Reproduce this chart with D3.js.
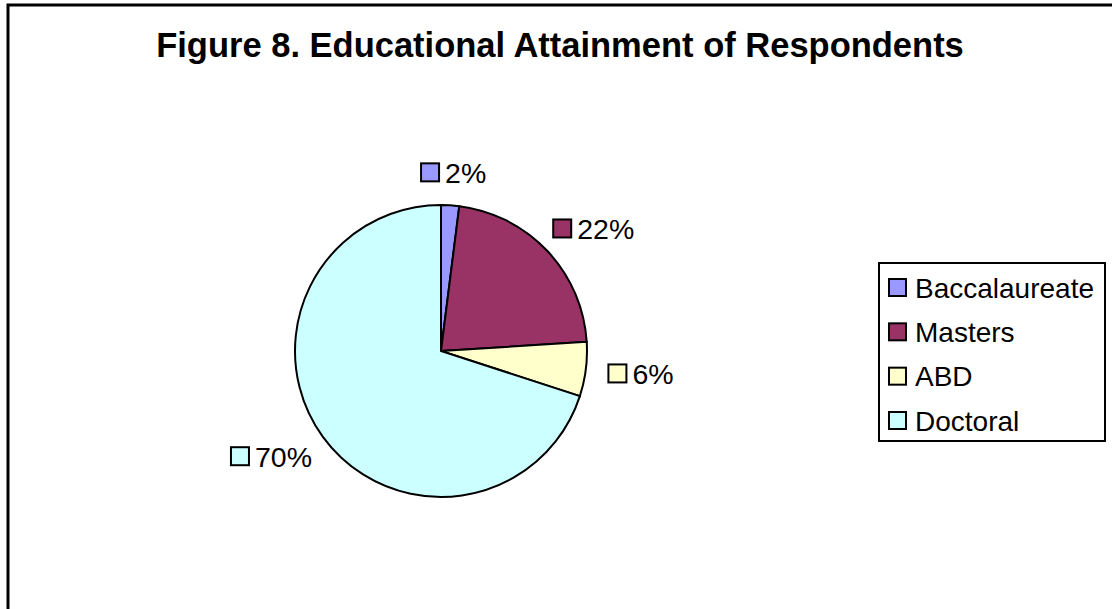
<!DOCTYPE html>
<html>
<head>
<meta charset="utf-8">
<style>
  body { margin:0; background:#fff; }
  text { font-family: "Liberation Sans", Arial, sans-serif; fill:#000; }
  .title { font-weight:bold; font-size:34.5px; }
  .frame { fill:#fff; stroke:#000; stroke-width:3px; }
  .slice { stroke:#000; stroke-width:2px; }
  .lbl text { font-size:28.5px; }
  .key { stroke:#000; stroke-width:2px; }
  .legend rect.box { fill:#fff; stroke:#000; stroke-width:2px; }
  .legend text { font-size:28px; }
</style>
</head>
<body>
<svg width="1112" height="609"></svg>
<script src="https://cdn.jsdelivr.net/npm/d3@7"></script>
<script>

var categories = ["Baccalaureate", "Masters", "ABD", "Doctoral"]
var values = [2, 22, 6, 70]
var colors = ["#9999ff", "#993366", "#ffffcc", "#ccffff"]
var titleText = "Figure 8. Educational Attainment of Respondents"

var svg = d3.select("svg")

// outer frame, runs off the right and bottom edges
svg.append("rect")
  .attr("class","frame")
  .attr("x",8).attr("y",5)
  .attr("width",1120).attr("height",620)

svg.append("text")
  .attr("class","title")
  .attr("x",560).attr("y",57)
  .attr("text-anchor","middle")
  .text(titleText)

var cx = 441, cy = 351, radius = 146, rLabel = 169

var data = categories.map(function(c,i) { return {name:c, value:values[i], color:colors[i]} })

var pie = d3.pie().sort(null).value(function(d) { return d.value })
var arc = d3.arc().innerRadius(0).outerRadius(radius)

var g = svg.append("g").attr("transform","translate(" + cx + "," + cy + ")")

var arcs = pie(data)

g.selectAll(".slice")
  .data(arcs)
  .enter().append("path")
  .attr("class","slice")
  .attr("fill",function(d) { return d.data.color })
  .attr("d",arc)

// percentage labels: small key square + text, placed outside the slice
var total = d3.sum(values)
var keySize = 18, gap = 6, lblH = 20

var lbl = g.selectAll(".lbl")
  .data(arcs)
  .enter().append("g")
  .attr("class","lbl")

lbl.append("text")
  .attr("dominant-baseline","central")
  .text(function(d) { return Math.round(d.data.value / total * 100) + "%" })

lbl.each(function(d) {
  var sel = d3.select(this)
  var tw = sel.select("text").node().getComputedTextLength()
  var w = keySize + gap + tw
  var a = (d.startAngle + d.endAngle) / 2
  // anchor on a circle outside the pie, box pushed outward from it
  var px = rLabel * Math.sin(a), py = -rLabel * Math.cos(a)
  var left = px - w * (1 - Math.sin(a)) / 2
  var top = py - lblH * (1 + Math.cos(a)) / 2
  sel.insert("rect","text")
    .attr("class","key")
    .attr("x",left).attr("y",top + (lblH - keySize) / 2)
    .attr("width",keySize).attr("height",keySize)
    .attr("fill",d.data.color)
  sel.select("text")
    .attr("x",left + keySize + gap)
    .attr("y",top + lblH / 2 + 1)
})

// legend
var legend = svg.append("g").attr("class","legend")
  .attr("transform","translate(879,263)")

legend.append("rect").attr("class","box")
  .attr("width",226).attr("height",178)

var ly = d3.scalePoint().domain(categories).range([24,157])

var item = legend.selectAll(".item")
  .data(data)
  .enter().append("g")
  .attr("class","item")
  .attr("transform",function(d) { return "translate(0," + ly(d.name) + ")" })

item.append("rect")
  .attr("class","key")
  .attr("x",10).attr("y",-8)
  .attr("width",17).attr("height",17)
  .attr("fill",function(d) { return d.color })

item.append("text")
  .attr("x",36).attr("y",1)
  .attr("dominant-baseline","central")
  .text(function(d) { return d.name })

</script>
</body>
</html>
